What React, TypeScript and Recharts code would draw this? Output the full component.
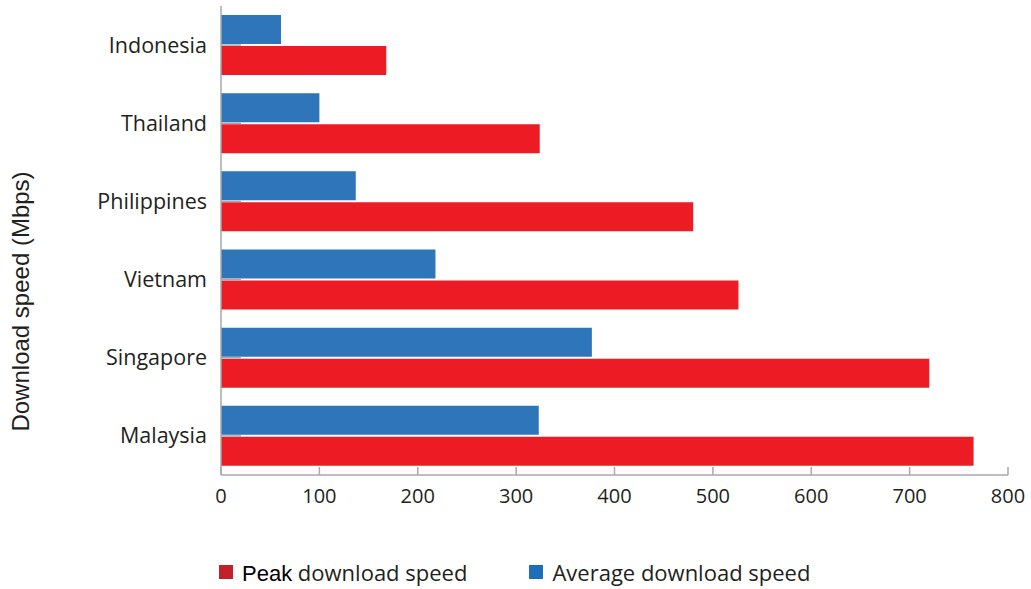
import React from "react"
import { BarChart, Bar, XAxis, YAxis, Legend } from "recharts"

const countries = ["Indonesia", "Thailand", "Philippines", "Vietnam", "Singapore", "Malaysia"]
const averageSpeed = [61, 100, 137, 218, 377, 323]
const peakSpeed = [168, 324, 480, 526, 720, 765]
const speedTicks = [0, 100, 200, 300, 400, 500, 600, 700, 800]

const data = countries.map((country, i) => ({
  country,
  average: averageSpeed[i],
  peak: peakSpeed[i],
}))

const AXIS_GREY = "#a7a9ac"
const TEXT = "#231f20"
const FONT = "'Open Sans', sans-serif"
const ARIAL = "'Liberation Sans', Arial, sans-serif"

// x ticks point up into the plot, labels sit below the axis line
function SpeedTick(props: any) {
  const { x, y, payload } = props
  const axisY = y - 14
  return (
    <g>
      <line x1={x} x2={x} y1={axisY} y2={axisY - 8} stroke={AXIS_GREY} strokeWidth={1.5} />
      <text x={x} y={y} dy="0.71em" textAnchor="middle" fill={TEXT} fontSize={20} fontFamily={FONT}>
        {payload.value}
      </text>
    </g>
  )
}

// category label plus a short inward tick between the two bars
function CountryTick(props: any) {
  const { x, y, payload } = props
  const axisX = x + 14
  return (
    <g>
      <line x1={axisX} x2={axisX + 20} y1={y} y2={y} stroke={AXIS_GREY} strokeWidth={1.5} />
      <text x={x} y={y} dy="0.35em" textAnchor="end" fill={TEXT} fontSize={21.5} fontFamily={FONT}>
        {payload.value}
      </text>
    </g>
  )
}

// axis title sits a little below the middle of the plot
function SpeedTitle(props: any) {
  const { viewBox } = props
  const cx = 20
  const cy = viewBox.y + viewBox.height / 2 + 61
  return (
    <text
      x={cx}
      y={cy}
      transform={`rotate(-90 ${cx} ${cy})`}
      textAnchor="middle"
      dominantBaseline="central"
      fill={TEXT}
      fontSize={24}
      fontFamily={ARIAL}
    >
      Download speed (Mbps)
    </text>
  )
}

function SpeedLegend() {
  return (
    <div style={{ display: "flex", alignItems: "center", fontFamily: FONT, fontSize: 22, color: TEXT }}>
      <span style={{ display: "inline-block", width: 14, height: 14, background: "#c1222a", marginRight: 9 }} />
      <span>
        <span style={{ fontFamily: ARIAL, fontSize: 22, color: "#000" }}>Peak</span> download speed
      </span>
      <span style={{ display: "inline-block", width: 14, height: 14, background: "#1c6fb8", marginLeft: 62, marginRight: 9 }} />
      <span>Average download speed</span>
    </div>
  )
}

export default function App() {
  return (
    <div style={{ position: "absolute", left: 0, top: 0, width: 1031, height: 589, background: "#fff" }}>
      <BarChart
        width={1031}
        height={589}
        data={data}
        layout="vertical"
        margin={{ top: 6, right: 23, bottom: 44, left: 0 }}
        barGap={2}
        barCategoryGap={9}
      >
        <XAxis
          type="number"
          domain={[0, 800]}
          ticks={speedTicks}
          interval={0}
          tickSize={0}
          tickMargin={14}
          height={40}
          stroke={AXIS_GREY}
          strokeWidth={1.5}
          tick={<SpeedTick />}
          tickLine={false}
        />
        <YAxis
          type="category"
          dataKey="country"
          width={221}
          tickSize={0}
          tickMargin={14}
          stroke={AXIS_GREY}
          strokeWidth={1.5}
          tick={<CountryTick />}
          tickLine={false}
          label={{ content: <SpeedTitle /> }}
        />
        <Legend
          verticalAlign="bottom"
          align="left"
          content={<SpeedLegend />}
          wrapperStyle={{ left: 219, bottom: 2, width: "auto" }}
        />
        <Bar dataKey="average" name="Average download speed" fill="#2e75b9" barSize={29} isAnimationActive={false} />
        <Bar dataKey="peak" name="Peak download speed" fill="#ed1c24" barSize={29} isAnimationActive={false} />
      </BarChart>
    </div>
  )
}
